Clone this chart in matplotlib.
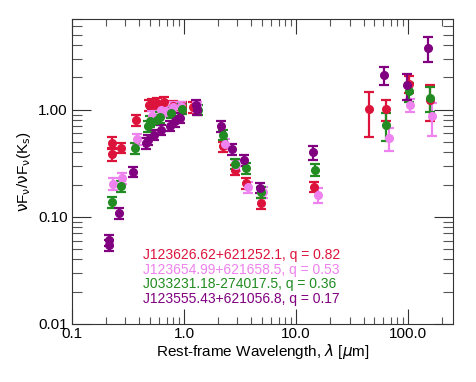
import matplotlib
matplotlib.use('Agg')
import matplotlib.pyplot as plt
from matplotlib.ticker import FixedLocator, FixedFormatter, LogLocator, NullFormatter

plt.rcParams['font.family'] = ['Liberation Sans', 'DejaVu Sans']
plt.rcParams['mathtext.fontset'] = 'dejavusans'

# rest-frame wavelength (micron), nuFnu normalised to Ks, errors
red_x = [0.226, 0.226, 0.273, 0.369, 0.488, 0.513, 0.568, 0.659, 0.798, 0.968, 1.2,
         2.22, 2.83, 3.59, 4.89, 14.6, 45.0, 63.4, 102.0, 157.0]
red_y = [0.49, 0.385, 0.443, 0.794, 1.11, 1.14, 1.16, 1.17, 1.09, 1.07, 1.05,
         0.453, 0.274, 0.206, 0.135, 0.191, 1.01, 1.01, 1.74, 1.24]
red_e = [0.06, 0.05, 0.05, 0.09, 0.13, 0.13, 0.13, 0.13, 0.12, 0.12, 0.12,
         0.05, 0.03, 0.025, 0.016, 0.022, 0.45, 0.23, 0.3, 0.45]

pink_x = [0.233, 0.281, 0.381, 0.513, 0.629, 0.697, 0.798, 0.947, 1.3,
          2.30, 2.93, 3.72, 5.05, 15.6, 67.0, 104.5, 163.0]
pink_y = [0.203, 0.229, 0.531, 0.865, 1.0, 0.964, 1.05, 1.07, 1.07,
          0.48, 0.305, 0.189, 0.171, 0.16, 0.543, 1.11, 0.865]
pink_e = [0.025, 0.028, 0.06, 0.1, 0.12, 0.11, 0.12, 0.12, 0.12,
          0.055, 0.035, 0.022, 0.02, 0.025, 0.13, 0.15, 0.3]

green_x = [0.229, 0.273, 0.364, 0.478, 0.495, 0.568, 0.608, 0.772, 0.968, 1.32,
           2.22, 2.83, 3.59, 4.89, 14.9, 63.4, 101.0, 156.0]
green_y = [0.138, 0.194, 0.437, 0.698, 0.777, 0.806, 0.854, 0.931, 1.015, 1.0,
           0.583, 0.312, 0.284, 0.171, 0.274, 0.723, 1.48, 1.29]
green_e = [0.016, 0.022, 0.05, 0.08, 0.09, 0.09, 0.1, 0.1, 0.11, 0.11,
           0.065, 0.035, 0.032, 0.02, 0.035, 0.21, 0.3, 0.33]

purple_x = [0.215, 0.215, 0.262, 0.347, 0.462, 0.478, 0.541, 0.629, 0.746, 0.827, 0.915,
            1.29, 1.3, 2.15, 2.70, 3.42, 4.72, 14.1, 60.4, 97.5, 150.0]
purple_y = [0.0605, 0.0543, 0.1076, 0.264, 0.488, 0.524, 0.583, 0.65, 0.708, 0.777, 0.836,
            1.11, 1.0, 0.698, 0.428, 0.34, 0.187, 0.401, 2.10, 1.69, 3.79]
purple_e = [0.007, 0.006, 0.012, 0.03, 0.055, 0.06, 0.065, 0.07, 0.08, 0.09, 0.09,
            0.12, 0.11, 0.08, 0.05, 0.04, 0.02, 0.06, 0.4, 0.45, 1.0]

names = ['J123626.62+621252.1, q = 0.82',
         'J123654.99+621658.5, q = 0.53',
         'J033231.18-274017.5, q = 0.36',
         'J123555.43+621056.8, q = 0.17']
colors = ['crimson', 'violet', 'forestgreen', 'purple']

fig = plt.figure(figsize=(4.77, 3.82), dpi=100)
ax = fig.add_axes([0.151, 0.152, 0.798, 0.798])

series = [(red_x, red_y, red_e), (pink_x, pink_y, pink_e),
          (green_x, green_y, green_e), (purple_x, purple_y, purple_e)]
for (x, y, e), c in zip(series, colors):
    ax.errorbar(x, y, yerr=e, fmt='o', color=c, ms=5.5, elinewidth=1.6,
                capsize=3.5, capthick=1.6)

ax.set_xscale('log')
ax.set_yscale('log')
ax.set_xlim(0.1, 250)
ax.set_ylim(0.01, 7)

ax.xaxis.set_major_locator(FixedLocator([0.1, 1, 10, 100]))
ax.xaxis.set_major_formatter(FixedFormatter(['0.1', '1.0', '10.0', '100.0']))
ax.yaxis.set_major_locator(FixedLocator([0.01, 0.1, 1]))
ax.yaxis.set_major_formatter(FixedFormatter(['0.01', '0.10', '1.00']))
ax.xaxis.set_minor_locator(LogLocator(base=10, subs=range(2, 10)))
ax.yaxis.set_minor_locator(LogLocator(base=10, subs=range(2, 10)))
ax.xaxis.set_minor_formatter(NullFormatter())
ax.yaxis.set_minor_formatter(NullFormatter())

ax.tick_params(axis='x', which='major', direction='in', length=11, width=0.8,
               top=True, labelsize=11, pad=2, color='#333333')
ax.tick_params(axis='x', which='minor', direction='in', length=5, width=0.8,
               top=True, color='#555555')
ax.tick_params(axis='y', which='major', direction='in', length=13.5, width=0.8,
               right=True, labelsize=11, pad=3, color='#333333')
ax.tick_params(axis='y', which='minor', direction='in', length=7, width=0.8,
               right=True, color='#555555')
for s in ax.spines.values():
    s.set_color('#333333')
    s.set_linewidth(0.8)

ax.set_xlabel(r'Rest-frame Wavelength, $\lambda$ [$\mu$m]', fontsize=11, labelpad=1)
ax.set_ylabel(r'$\mathrm{\nu}$F$_\mathrm{\nu}$/$\mathrm{\nu}$F$_\mathrm{\nu}$(K$_\mathrm{s}$)',
              fontsize=11, labelpad=4)

for i, (n, c) in enumerate(zip(names, colors)):
    ax.text(0.186, 0.226 - i * 0.048, n, color=c, fontsize=10,
            transform=ax.transAxes, va='center', ha='left')

fig.savefig('out.png', dpi=100)
